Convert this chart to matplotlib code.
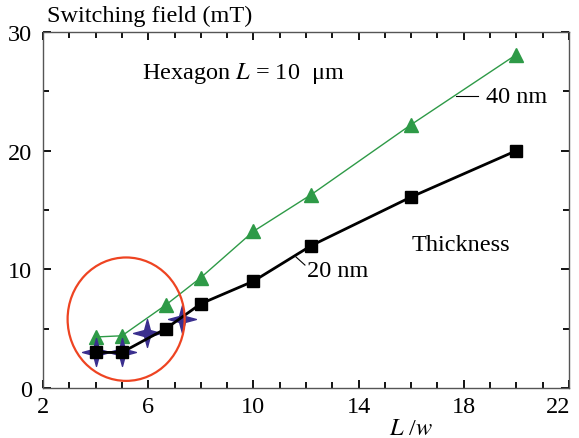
import numpy as np
import matplotlib
matplotlib.use("Agg")
import matplotlib.pyplot as plt
import matplotlib.transforms as mtransforms
from matplotlib.patches import Ellipse
from matplotlib.path import Path

# Data
x20 = [4, 5, 6.67, 8, 10, 12.2, 16, 20]
y20 = [3.0, 3.0, 5.0, 7.1, 9.0, 12.0, 16.1, 20.0]
x40 = [4, 5, 6.67, 8, 10, 12.2, 16, 20]
y40 = [4.3, 4.4, 7.0, 9.3, 13.2, 16.3, 22.2, 28.1]
xstar = [4, 5, 5.95, 7.3]
ystar = [3.0, 3.0, 4.6, 5.8]

plt.rcParams['font.family'] = ['Liberation Serif', 'DejaVu Serif']
plt.rcParams['mathtext.fontset'] = 'stix'
fs = 17.5

fig = plt.figure(figsize=(5.79, 4.39), dpi=100)
ax = fig.add_axes([0.0743, 0.1139, 0.9084, 0.8109])

# four pointed star marker
t = np.linspace(0, 2 * np.pi, 9)[:-1] + np.pi / 2
r = np.array([1.0, 0.3] * 4)
verts = np.column_stack([r * np.cos(t), r * np.sin(t)])
verts = np.vstack([verts, verts[0]])
star = Path(verts, [Path.MOVETO] + [Path.LINETO] * 7 + [Path.CLOSEPOLY])

ax.plot(x40, y40, color='#2e9a47', lw=1.0, marker='^', ms=10, zorder=3)
ax.plot(xstar, ystar, ls='none', marker=star, ms=20, color='#3a2f8e', zorder=4)
ax.plot(x20, y20, color='black', lw=2.0, marker='s', ms=9, zorder=5)

ax.add_patch(Ellipse((5.16, 5.8), 4.45, 10.4, fill=False, ec='#ee4422', lw=1.6, zorder=6))

ax.set_xlim(2, 22)
ax.set_ylim(0, 30)
ax.set_xticks([2, 6, 10, 14, 18, 22])
ax.set_xticks(np.arange(2, 23, 1), minor=True)
ax.set_yticks([0, 10, 20, 30])
ax.set_yticks(np.arange(0, 31, 5), minor=True)
ax.tick_params(which='both', direction='in', top=True, right=True, labelsize=fs, width=1.3, color='black')
ax.tick_params(which='major', length=6)
ax.tick_params(axis='x', which='major', pad=6)
ax.tick_params(axis='y', which='major', pad=8)
ax.tick_params(which='minor', length=4)
for s in ax.spines.values():
    s.set_color('#555555')
    s.set_linewidth(1.0)

# pull the last x label in so it stays on the canvas
lab = ax.get_xticklabels()[-1]
lab.set_transform(lab.get_transform() + mtransforms.ScaledTranslation(-8 / 72, 0, fig.dpi_scale_trans))

fig.text(0.081, 0.95, 'Switching field (mT)', fontsize=fs, va='baseline')
fig.text(0.672, 0.009, '$L$ /$w$', fontsize=fs, ha='left', va='baseline')
ax.text(5.77, 26.1, 'Hexagon $L$ = 10  \u03bcm', fontsize=fs, va='baseline')
ax.text(16.03, 11.6, 'Thickness', fontsize=fs, va='baseline')
ax.text(18.85, 24.1, '40 nm', fontsize=fs, va='baseline')
ax.plot([17.7, 18.54], [24.6, 24.6], color='black', lw=0.8)
ax.text(12.04, 9.43, '20 nm', fontsize=fs, va='baseline')
ax.plot([11.62, 11.96], [11.04, 10.36], color='black', lw=0.8)

fig.savefig('out.png', dpi=100)
